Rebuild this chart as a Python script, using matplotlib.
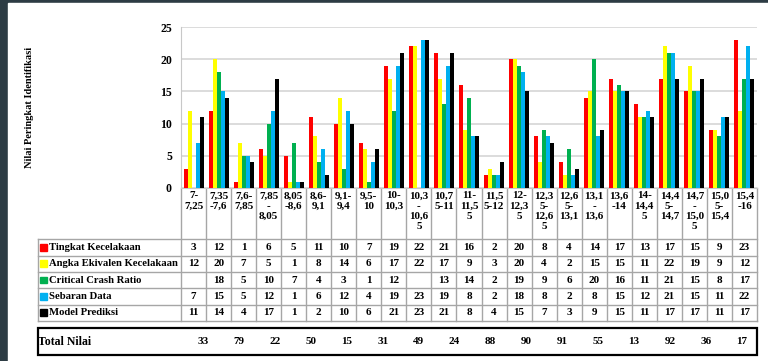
import matplotlib.pyplot as plt
import numpy as np
from matplotlib.patches import Rectangle

plt.rcParams['font.family'] = ['Liberation Serif', 'DejaVu Serif']
plt.rcParams['font.weight'] = 'bold'

categories = ['7-\n7,25', '7,35\n-7,6', '7,6-\n7,85', '7,85\n-\n8,05', '8,05\n-8,6',
              '8,6-\n9,1', '9,1-\n9,4', '9,5-\n10', '10-\n10,3', '10,3\n-\n10,6\n5',
              '10,7\n5-11', '11-\n11,5\n5', '11,5\n5-12', '12-\n12,3\n5', '12,3\n5-\n12,6\n5',
              '12,6\n5-\n13,1', '13,1\n-\n13,6', '13,6\n-14', '14-\n14,4\n5', '14,4\n5-\n14,7',
              '14,7\n-\n15,0\n5', '15,0\n5-\n15,4', '15,4\n-16']

series_names = ['Tingkat Kecelakaan', 'Angka Ekivalen Kecelakaan', 'Critical Crash Ratio',
                'Sebaran Data', 'Model Prediksi']
tingkat = [3, 12, 1, 6, 5, 11, 10, 7, 19, 22, 21, 16, 2, 20, 8, 4, 14, 17, 13, 17, 15, 9, 23]
angka = [12, 20, 7, 5, 1, 8, 14, 6, 17, 22, 17, 9, 3, 20, 4, 2, 15, 15, 11, 22, 19, 9, 12]
ccr = [None, 18, 5, 10, 7, 4, 3, 1, 12, None, 13, 14, 2, 19, 9, 6, 20, 16, 11, 21, 15, 8, 17]
sebaran = [7, 15, 5, 12, 1, 6, 12, 4, 19, 23, 19, 8, 2, 18, 8, 2, 8, 15, 12, 21, 15, 11, 22]
model = [11, 14, 4, 17, 1, 2, 10, 6, 21, 23, 21, 8, 4, 15, 7, 3, 9, 15, 11, 17, 17, 11, 17]
series = [tingkat, angka, ccr, sebaran, model]
colors = ['#ff0000', '#ffff00', '#00b050', '#00b0f0', '#000000']

totals = [33, 79, 22, 50, 15, 31, 49, 24, 88, 90, 91, 55, 13, 92, 36, 17]

W, H = 768, 361
fig = plt.figure(figsize=(W / 100, H / 100), dpi=100, facecolor='#2d3c44')

# layout in pixels (y measured from the top)
x0, x1 = 181, 757
y_top, y_zero = 27, 188
lab_left = 37.7
row_top, row_h = 239.3, 16.3
line_c = '#a6a6a6'

ov = fig.add_axes([0, 0, 1, 1], zorder=0)
ov.set_xlim(0, W)
ov.set_ylim(H, 0)
ov.axis('off')
ov.add_patch(Rectangle((8, 3), W - 8, H - 3, color='white'))

ax = fig.add_axes([x0 / W, 1 - y_zero / H, (x1 - x0) / W, (y_zero - y_top) / H], zorder=1)
n = len(categories)
x = np.arange(n)
bw = 0.16
for i, (vals, c) in enumerate(zip(series, colors)):
    v = [np.nan if a is None else a for a in vals]
    ax.bar(x + (i - 2) * bw, v, bw, color=c, zorder=3)
ax.set_xlim(-0.5, n - 0.5)
ax.set_ylim(0, 25)
ax.set_yticks(range(0, 26, 5))
ax.yaxis.grid(True, color='#d9d9d9', lw=1.3)
ax.set_axisbelow(True)
ax.set_xticks([])
ax.tick_params(axis='y', length=0, pad=6.5, labelsize=8.5)
for s in ['top', 'right']:
    ax.spines[s].set_visible(False)
ax.spines['left'].set_color('#c8c8c8')
ax.spines['bottom'].set_color('#c8c8c8')

fig.text(30 / W, 1 - 107.5 / H, 'Nilai Peringkat Identifikasi', rotation=90,
         ha='center', va='center', fontsize=7.5)

# data table under the chart
col_w = (x1 - x0) / n
edges = x0 + col_w * np.arange(n + 1)
centers = edges[:-1] + col_w / 2
y_bot = row_top + 5 * row_h
for e in edges:
    ov.plot([e, e], [y_zero, y_bot], color=line_c, lw=1)
ov.plot([lab_left, lab_left], [row_top, y_bot], color=line_c, lw=1)
for k in range(6):
    yy = row_top + k * row_h
    ov.plot([lab_left, x1], [yy, yy], color=line_c, lw=1)

for cx, lab in zip(centers, categories):
    ov.text(cx, 191.5, lab, ha='center', va='top', fontsize=8, linespacing=1.15)

for r, (name, vals, c) in enumerate(zip(series_names, series, colors)):
    yc = row_top + row_h * (r + 0.5)
    ov.add_patch(Rectangle((40, yc - 3.3), 6.5, 6.5, color=c))
    ov.text(49, yc, name, ha='left', va='center', fontsize=7.7)
    for cx, v in zip(centers, vals):
        if v is not None:
            ov.text(cx, yc, str(v), ha='center', va='center', fontsize=8)

# total row
ov.add_patch(Rectangle((lab_left, 328.3), x1 - lab_left, 26.7, fill=False,
                       ec='black', lw=1.6))
ov.text(lab_left, 342, 'Total Nilai', ha='left', va='center', fontsize=8.5)
for tx, t in zip(np.linspace(203, 742, len(totals)), totals):
    ov.text(tx, 342, str(t), ha='center', va='center', fontsize=8)

fig.savefig('out.png', dpi=100, facecolor=fig.get_facecolor())
